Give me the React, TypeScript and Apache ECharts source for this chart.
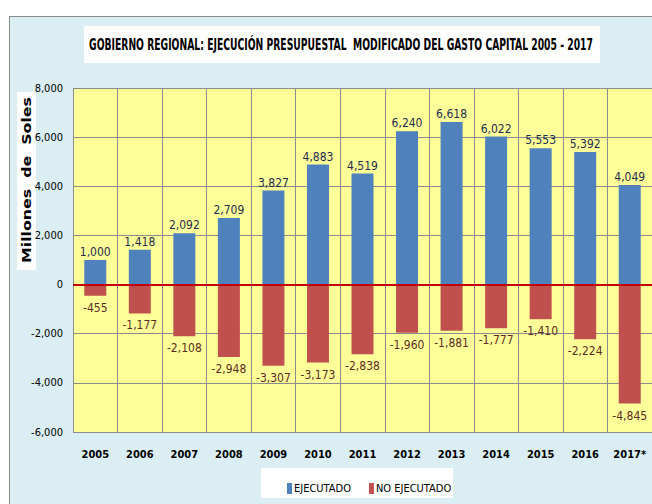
import React, { useEffect, useRef } from "react";
import * as echarts from "echarts";

const YEARS = ["2005", "2006", "2007", "2008", "2009", "2010", "2011", "2012", "2013", "2014", "2015", "2016", "2017*"];
const EJECUTADO = [1000, 1418, 2092, 2709, 3827, 4883, 4519, 6240, 6618, 6022, 5553, 5392, 4049];
const NO_EJECUTADO = [-455, -1177, -2108, -2948, -3307, -3173, -2838, -1960, -1881, -1777, -1410, -2224, -4845];
const Y_MIN = -6000;
const Y_MAX = 8000;
const Y_STEP = 2000;
const TITLE = "GOBIERNO REGIONAL: EJECUCIÓN PRESUPUESTAL  MODIFICADO DEL GASTO CAPITAL 2005 - 2017";
const Y_NAME = "Millones  de  Soles";
const SERIES_NAMES = ["EJECUTADO", "NO EJECUTADO"];

const NARROW = "'Liberation Sans Narrow', 'DejaVu Sans Condensed', 'Arial Narrow', sans-serif";

function measure(text: string, font: string): number {
  const c = document.createElement("canvas");
  const ctx = c.getContext("2d");
  if (!ctx) return 1;
  ctx.font = font;
  return ctx.measureText(text).width || 1;
}

const fmt = (v: number) => v.toLocaleString("en-US");

export default function App() {
  const ref = useRef<HTMLDivElement>(null);
  useEffect(() => {
    document.body.style.margin = "0";
    if (!ref.current) return;
    const chart = echarts.init(ref.current, undefined, { renderer: "svg" });
    const titleFont = `bold 16px ${NARROW}`;
    const titleScale = 504 / measure(TITLE, titleFont);
    const yFont = "bold 13px 'DejaVu Sans', sans-serif";
    const yScale = 166 / measure(Y_NAME, yFont);

    chart.setOption({
      animation: false,
      backgroundColor: "transparent",
      grid: {
        left: 73,
        top: 88,
        width: 585,
        height: 344,
        show: true,
        backgroundColor: "#ffff99",
        borderWidth: 0,
      },
      legend: {
        data: SERIES_NAMES,
        left: 282,
        top: 478,
        icon: "rect",
        itemWidth: 5,
        itemHeight: 11,
        itemGap: 18,
        selectedMode: false,
        z: 10,
        textStyle: { fontFamily: NARROW, fontSize: 11, color: "#000", padding: [0, 0, 0, -3] },
      },
      xAxis: {
        type: "category",
        data: YEARS,
        boundaryGap: true,
        axisLine: { show: false },
        axisTick: { show: false },
        splitLine: { show: true, lineStyle: { color: "#8c8c8c", width: 1 } },
        axisLabel: {
          interval: 0,
          fontFamily: NARROW,
          fontWeight: "bold",
          fontSize: 11,
          color: "#000",
          margin: 17,
        },
      },
      yAxis: {
        type: "value",
        min: Y_MIN,
        max: Y_MAX,
        interval: Y_STEP,
        axisLine: { show: false },
        axisTick: { show: false },
        splitLine: { show: true, lineStyle: { color: "#8c8c8c", width: 1 } },
        axisLabel: {
          formatter: (v: number) => fmt(v),
          fontFamily: NARROW,
          fontSize: 11,
          color: "#000",
          margin: 10,
        },
      },
      series: [
        {
          name: SERIES_NAMES[0],
          type: "bar",
          data: EJECUTADO,
          barWidth: 22,
          barGap: "-100%",
          itemStyle: { color: "#4f81bd" },
          label: {
            show: true,
            position: "top",
            distance: 2,
            formatter: (p: any) => fmt(p.value),
            fontFamily: NARROW,
            fontSize: 12,
            color: "#1f2d4d",
          },
        },
        {
          name: SERIES_NAMES[1],
          type: "bar",
          data: NO_EJECUTADO,
          barWidth: 22,
          barGap: "-100%",
          itemStyle: { color: "#c0504d" },
          label: {
            show: true,
            position: "bottom",
            distance: 6,
            formatter: (p: any) => fmt(p.value),
            fontFamily: NARROW,
            fontSize: 12,
            color: "#5b2c1f",
          },
          markLine: {
            silent: true,
            symbol: "none",
            label: { show: false },
            lineStyle: { color: "#c00000", width: 2, type: "solid" },
            data: [{ yAxis: 0 }],
          },
        },
      ],
      graphic: [
        { type: "rect", z: 0, shape: { x: 84, y: 26, width: 516, height: 37 }, style: { fill: "#ffffff" } },
        {
          type: "text",
          z: 1,
          x: 341,
          y: 45,
          scaleX: titleScale,
          style: { text: TITLE, font: titleFont, fill: "#000", textAlign: "center", textVerticalAlign: "middle" },
        },
        { type: "rect", z: 0, shape: { x: 17, y: 92, width: 19, height: 178 }, style: { fill: "#ffffff" } },
        {
          type: "text",
          z: 1,
          x: 27,
          y: 180,
          rotation: Math.PI / 2,
          scaleX: yScale,
          style: { text: Y_NAME, font: yFont, fill: "#000", textAlign: "center", textVerticalAlign: "middle" },
        },
        { type: "rect", z: 0, shape: { x: 261, y: 468, width: 192, height: 30 }, style: { fill: "#ffffff" } },
      ],
    });
    return () => chart.dispose();
  }, []);

  return (
    <div style={{ position: "relative", width: 652, height: 504, overflow: "hidden", background: "#ffffff" }}>
      <div
        style={{
          position: "absolute",
          left: 9,
          top: 16,
          width: 700,
          height: 600,
          background: "#daeef3",
          border: "1px solid #8a8a8a",
        }}
      />
      <div ref={ref} style={{ position: "absolute", left: 0, top: 0, width: 652, height: 504 }} />
    </div>
  );
}
